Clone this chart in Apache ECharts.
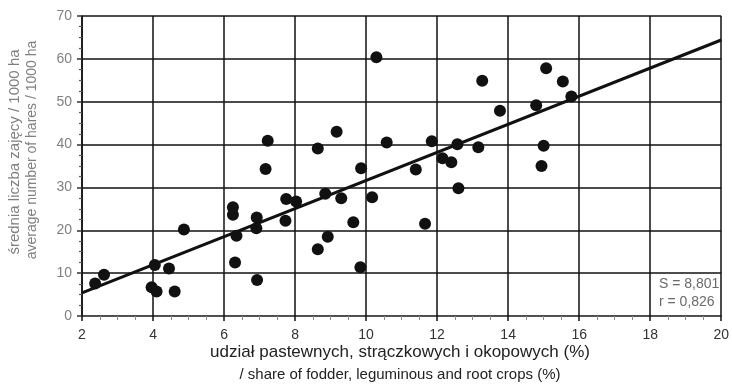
<!DOCTYPE html>
<html>
<head>
<meta charset="utf-8">
<script src="https://cdn.jsdelivr.net/npm/echarts@6/dist/echarts.min.js"></script>
<style>
  html, body { margin: 0; padding: 0; background: #fff; }
  #chart { width: 732px; height: 387px; }
</style>
</head>
<body>
<div id="chart"></div>
<script>
// Share of fodder, leguminous and root crops (%) per area
var shareX = [2.37, 2.62, 3.96, 4.05, 4.10, 4.45, 4.61, 4.87, 6.25, 6.25, 6.35, 6.31,
  6.92, 6.91, 6.93, 7.17, 7.23, 7.75, 8.03, 7.73, 8.64, 8.64, 8.92, 8.85, 9.17, 9.30,
  9.64, 9.84, 9.86, 10.17, 10.29, 10.58, 11.40, 11.66, 11.85, 12.15, 12.40, 12.57,
  12.60, 13.16, 13.27, 13.77, 14.79, 15.07, 15.54, 15.78, 15.00, 14.94];
// Average number of hares per 1000 ha
var haresY = [7.6, 9.6, 6.7, 11.9, 5.7, 11.1, 5.7, 20.2, 25.4, 23.6, 18.7, 12.5,
  23.0, 20.5, 8.4, 34.3, 40.9, 27.3, 26.7, 22.2, 39.1, 15.6, 18.5, 28.5, 43.0, 27.5,
  21.9, 11.4, 34.5, 27.7, 60.4, 40.5, 34.2, 21.5, 40.8, 36.8, 35.9, 40.1, 29.8, 39.4,
  54.9, 47.9, 49.2, 57.8, 54.7, 51.2, 39.7, 35.0];
// Regression line end points
var fitX = [2, 20];
var fitY = [5.4, 64.4];
// Fit statistics
var statLines = ['S = 8,801', 'r = 0,826'];
// Axis titles
var xTitle = ['udział pastewnych, strączkowych i okopowych (%)', '/ share of fodder, leguminous and root crops (%)'];
var yTitle = ['średnia liczba zajęcy / 1000 ha', 'average number of hares / 1000 ha'];

var FONT = '"Liberation Sans", Arial, sans-serif';
var chart = echarts.init(document.getElementById('chart'), null, { renderer: 'canvas' });

var points = shareX.map(function (x, i) { return [x, haresY[i]]; });
var fit = fitX.map(function (x, i) { return [x, fitY[i]]; });

chart.setOption({
  animation: false,
  backgroundColor: '#fff',
  grid: { left: 82, right: 8, top: 16, bottom: 71, containLabel: false },
  xAxis: {
    type: 'value', min: 2, max: 20, interval: 2,
    axisLine: { show: true, onZero: false, lineStyle: { color: '#555', width: 1.2 } },
    axisTick: { show: true, inside: false, length: 5, lineStyle: { color: '#111', width: 1.5 } },
    minorTick: { show: true, splitNumber: 4, length: 4, lineStyle: { color: '#888', width: 1 } },
    splitLine: { show: true, lineStyle: { color: '#111', width: 1.5 } },
    axisLabel: { color: '#333', fontFamily: FONT, fontSize: 14, margin: 12 }
  },
  yAxis: {
    type: 'value', min: 0, max: 70, interval: 10,
    axisLine: { show: true, onZero: false, lineStyle: { color: '#111', width: 1.5 } },
    axisTick: { show: true, inside: false, length: 5, lineStyle: { color: '#333', width: 1.5 } },
    minorTick: { show: true, splitNumber: 4, length: 3, lineStyle: { color: '#555', width: 1.2 } },
    splitLine: { show: true, lineStyle: { color: '#111', width: 1.5 } },
    axisLabel: { color: '#808080', fontFamily: FONT, fontSize: 14, margin: 10 }
  },
  series: [
    {
      type: 'line', data: fit, symbol: 'none', z: 2,
      lineStyle: { color: '#111', width: 3 }
    },
    {
      type: 'scatter', data: points, symbol: 'circle', symbolSize: 12, z: 3,
      itemStyle: { color: '#111', opacity: 1 }
    }
  ],
  graphic: [
    { type: 'text', left: 659, top: 277, style: { text: statLines[0], fill: '#6a6a6a', font: '14px ' + FONT } },
    { type: 'text', left: 659, top: 295, style: { text: statLines[1], fill: '#6a6a6a', font: '14px ' + FONT } },
    { type: 'text', x: 400, y: 352, style: { text: xTitle[0], fill: '#222', font: '17px ' + FONT, align: 'center', verticalAlign: 'middle' } },
    { type: 'text', x: 400, y: 375, style: { text: xTitle[1], fill: '#222', font: '15px ' + FONT, align: 'center', verticalAlign: 'middle' } },
    { type: 'text', x: 15, y: 152, rotation: Math.PI / 2, style: { text: yTitle[0], fill: '#808080', font: '15px ' + FONT, align: 'center', verticalAlign: 'middle' } },
    { type: 'text', x: 32, y: 150, rotation: Math.PI / 2, style: { text: yTitle[1], fill: '#808080', font: '14px ' + FONT, align: 'center', verticalAlign: 'middle' } }
  ]
});
</script>
</body>
</html>
